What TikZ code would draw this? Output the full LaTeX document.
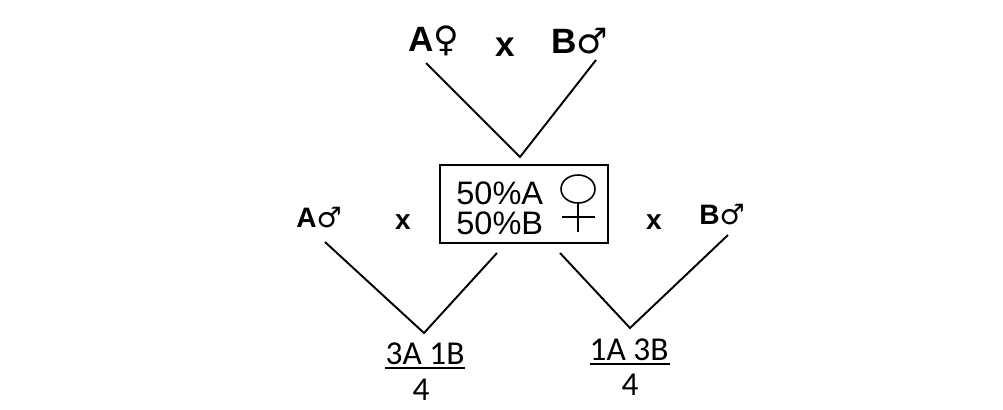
\documentclass[tikz,border=0pt]{standalone}
\usepackage{fontspec}
\setmainfont{Liberation Sans}
\newfontfamily\symfont{DejaVu Sans}
\newfontfamily\ratiofont{Carlito}
\usetikzlibrary{positioning}
\tikzset{parent/.style = {inner sep = 0, font = \bfseries\fontsize{20}{23}\selectfont}}
\tikzset{mate/.style = {inner sep = 0, font = \bfseries\fontsize{16}{19}\selectfont}}
\tikzset{share/.style = {inner sep = 0, anchor = west, font = \fontsize{18.5}{21}\selectfont}}
\tikzset{ratio/.style = {inner sep = 0, font = \ratiofont\fontsize{19}{22}\selectfont}}
\tikzset{cross/.style = {line width = 1.1pt}}
\newcommand{\fem}{{\symfont\mdseries ♀}}
\newcommand{\mal}{{\symfont\mdseries ♂}}

\begin{document}
\begin{tikzpicture}[x=0.02cm, y=-0.02cm]
    \useasboundingbox (0, 0) rectangle (1003, 409);

    \node [parent] (aF) at (434, 41) {A\fem};
    \node [parent] (x0) at (505, 47) {x};
    \node [parent] (bM) at (580, 41) {B\mal};

    \coordinate (t1) at (426, 63);
    \coordinate (t2) at (596, 60);
    \coordinate (tv) at (520, 157);
    \draw [cross] (t1) -- (tv) -- (t2);

    \node [draw, cross, minimum width = 3.36cm, minimum height = 1.56cm] (mix) at (524, 204) {};
    \node [share] (sA) at (456, 193) {50\%A};
    \node [share] (sB) at (456, 223) {50\%B};
    \draw [line width = 0.9pt] (578, 189) ellipse [x radius = 17, y radius = 14];
    \draw [line width = 0.9pt] (578, 203) -- (578, 232);
    \draw [line width = 0.9pt] (562, 217) -- (595, 217);

    \node [mate] (aM) at (319, 218) {A\mal};
    \node [mate] (x1) at (403, 222) {x};
    \node [mate] (x2) at (654, 222) {x};
    \node [mate] (bM2) at (722, 215) {B\mal};

    \coordinate (l1) at (325, 242);
    \coordinate (lv) at (424, 333);
    \coordinate (l2) at (497, 253);
    \draw [cross] (l1) -- (lv) -- (l2);

    \coordinate (r1) at (560, 253);
    \coordinate (rv) at (630, 328);
    \coordinate (r2) at (728, 235);
    \draw [cross] (r1) -- (rv) -- (r2);

    \node [ratio] (left) at (425, 354) {3A 1B};
    \node [ratio] (leftN) at (421, 390) {4};
    \draw [line width = 1.4pt] (385, 368) -- (465, 368);

    \node [ratio] (right) at (629, 350) {1A 3B};
    \node [ratio] (rightN) at (630, 385) {4};
    \draw [line width = 1.4pt] (590, 364) -- (670, 364);
\end{tikzpicture}
\end{document}
